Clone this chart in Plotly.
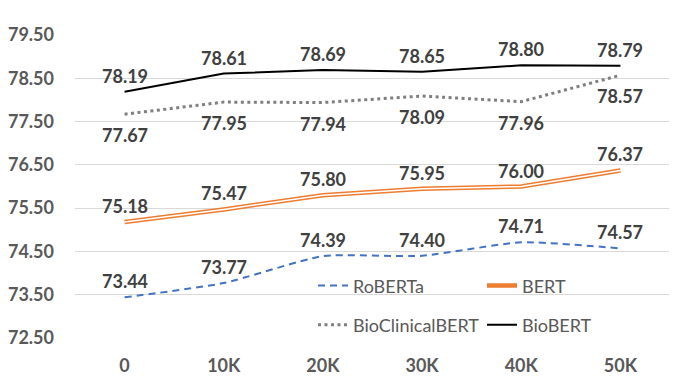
import plotly.graph_objects as go

steps = ["0", "10K", "20K", "30K", "40K", "50K"]
roberta = [73.44, 73.77, 74.39, 74.40, 74.71, 74.57]
bert = [75.18, 75.47, 75.80, 75.95, 76.00, 76.37]
bioclinical = [77.67, 77.95, 77.94, 78.09, 77.96, 78.57]
biobert = [78.19, 78.61, 78.69, 78.65, 78.80, 78.79]
y_ticks = [72.5, 73.5, 74.5, 75.5, 76.5, 77.5, 78.5, 79.5]

FONT = "Lato"
LABEL_COLOR = "#404040"
TICK_COLOR = "#595959"

fig = go.Figure()

# RoBERTa: smoothed dashed blue line
fig.add_trace(go.Scatter(x=steps, y=roberta, name="RoBERTa", mode="lines",
                         line=dict(color="#4472C4", width=2, dash="7px,5px", shape="spline", smoothing=0.6),
                         legend="legend"))
# BERT: orange double line (orange outer, white core)
fig.add_trace(go.Scatter(x=steps, y=bert, name="BERT", mode="lines",
                         line=dict(color="#ED7D31", width=4.5), legend="legend"))
fig.add_trace(go.Scatter(x=steps, y=bert, name="BERT core", mode="lines",
                         line=dict(color="white", width=1.5), showlegend=False, hoverinfo="skip"))
# BioClinicalBERT: gray dotted
fig.add_trace(go.Scatter(x=steps, y=bioclinical, name="BioClinicalBERT", mode="lines",
                         line=dict(color="#7F7F7F", width=3, dash="3px,3.5px"), legend="legend2"))
# BioBERT: black solid
fig.add_trace(go.Scatter(x=steps, y=biobert, name="BioBERT", mode="lines",
                         line=dict(color="black", width=2), legend="legend2"))

# data labels
label_font = dict(family=FONT, size=18, color=LABEL_COLOR, weight="bold")
for series, shift in [(roberta, 16), (bert, 16), (bioclinical, -21), (biobert, 16)]:
    for x, y in zip(steps, series):
        fig.add_annotation(x=x, y=y, text=f"{y:.2f}", showarrow=False,
                           yshift=shift, yanchor="middle", font=label_font)

legend_common = dict(orientation="h", xanchor="left", yanchor="middle",
                     bgcolor="rgba(0,0,0,0)", entrywidth=124, entrywidthmode="pixels",
                     font=dict(family=FONT, size=18, color=TICK_COLOR), itemwidth=30)

# the page body adds an 8px margin, so the figure is drawn 8px smaller
fig.update_layout(
    width=669, height=371,
    margin=dict(l=67, r=7, t=27, b=41, autoexpand=False),
    paper_bgcolor="white", plot_bgcolor="white",
    showlegend=True,
    legend=dict(x=0.40, y=0.172, **legend_common),
    legend2=dict(x=0.40, y=0.043, **legend_common),
    xaxis=dict(type="category", range=[-0.5, 5.5], showgrid=False, showline=False, ticks="",
               ticklabelstandoff=15, automargin=False,
               tickfont=dict(family=FONT, size=18, color=TICK_COLOR, weight="bold")),
    yaxis=dict(range=[72.5, 79.5], tickvals=y_ticks, tickformat=".2f",
               showgrid=True, gridcolor="#D9D9D9", gridwidth=1, zeroline=False, showline=False,
               ticks="", ticklabelstandoff=20, automargin=False,
               tickfont=dict(family=FONT, size=18, color=TICK_COLOR, weight="bold")),
)

fig.write_html("out.html")
